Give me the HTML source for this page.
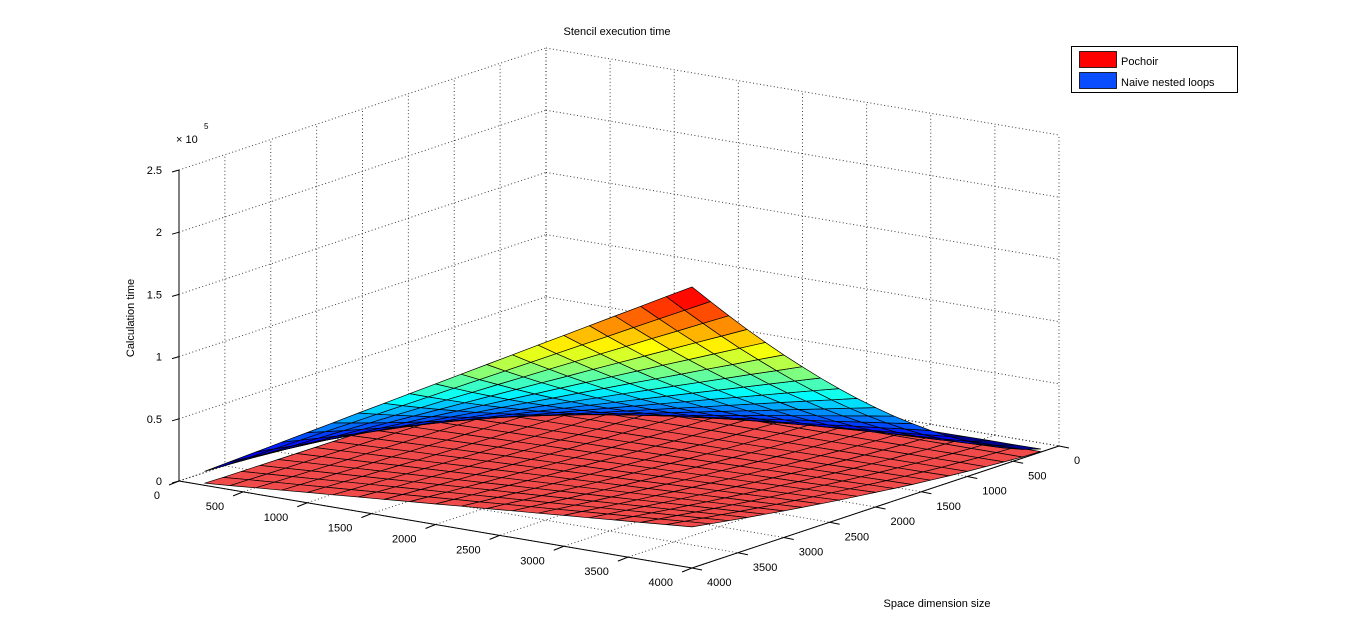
<!DOCTYPE html>
<html><head><meta charset="utf-8"><style>
html,body{margin:0;padding:0;background:#fff;}
svg{display:block;font-family:"Liberation Sans",Arial,sans-serif;}
</style></head><body>
<svg id="chart" width="1366" height="638" viewBox="0 0 1366 638" xmlns="http://www.w3.org/2000/svg">
<rect x="0" y="0" width="1366" height="638" fill="#fff"/>
<text x="617" y="35" font-size="11" text-anchor="middle">Stencil execution time</text>
<g id="grid"></g>
<g id="red"></g>
<g id="blue"></g>
<g id="axes"></g>
<text x="0" y="0" font-size="11" text-anchor="middle" transform="translate(134,318) rotate(-90)">Calculation time</text>
<text x="937" y="607" font-size="11" text-anchor="middle">Space dimension size</text>
<text x="176" y="143" font-size="11">× 10</text>
<text x="204" y="129" font-size="8">5</text>
<g>
<rect x="1071.5" y="46.5" width="166" height="46" fill="#fff" stroke="#000"/>
<rect x="1079.5" y="51.5" width="37" height="16" fill="#ff0000" stroke="#000" stroke-width="0.8"/>
<text x="1121" y="65" font-size="11">Pochoir</text>
<rect x="1079.5" y="72.5" width="37" height="16" fill="#0a4cff" stroke="#000" stroke-width="0.8"/>
<text x="1121" y="86" font-size="11">Naive nested loops</text>
</g>
</svg>
<script>
// ---- data ----
const aSizes = [200,400,600,800,1000,1200,1400,1600,1800,2000,2200,2400,2600,2800,3000,3200,3400,3600,3800,4000];
const bSizes = [200,400,600,800,1000,1200,1400,1600,1800,2000,2200,2400,2600,2800,3000,3200,3400,3600,3800,4000];
const aTicks = [0,500,1000,1500,2000,2500,3000,3500,4000];
const bTicks = [0,500,1000,1500,2000,2500,3000,3500,4000];
const zTicks = [0,0.5,1,1.5,2,2.5];
const zTickLabels = ["0","0.5","1","1.5","2","2.5"];
// naive nested loops (thousands), row = aSizes index, column = bSizes index
const naiveTime = [
[0.1,0.4,0.7,1.0,1.4,1.9,2.3,2.9,3.4,4.0,4.6,5.3,5.9,6.6,7.3,8.1,8.9,9.7,10.5,11.3],
[0.3,0.7,1.3,2.0,2.8,3.7,4.7,5.7,6.8,8.0,9.2,10.5,11.8,13.2,14.7,16.2,17.7,19.3,20.9,22.6],
[0.4,1.1,2.0,3.0,4.2,5.6,7.0,8.6,10.2,12.0,13.8,15.8,17.8,19.9,22.0,24.3,26.6,29.0,31.4,33.9],
[0.5,1.4,2.6,4.0,5.7,7.4,9.4,11.4,13.6,16.0,18.4,21.0,23.7,26.5,29.4,32.3,35.4,38.6,41.9,45.2],
[0.6,1.8,3.3,5.1,7.1,9.3,11.7,14.3,17.1,20.0,23.1,26.3,29.6,33.1,36.7,40.4,44.3,48.3,52.3,56.5],
[0.8,2.1,3.9,6.1,8.5,11.1,14.0,17.2,20.5,24.0,27.7,31.5,35.5,39.7,44.0,48.5,53.1,57.9,62.8,67.8],
[0.9,2.5,4.6,7.1,9.9,13.0,16.4,20.0,23.9,28.0,32.3,36.8,41.4,46.3,51.4,56.6,62.0,67.6,73.3,79.1],
[1.0,2.8,5.2,8.1,11.3,14.8,18.7,22.9,27.3,32.0,36.9,42.0,47.4,53.0,58.7,64.7,70.8,77.2,83.7,90.4],
[1.1,3.2,5.9,9.1,12.7,16.7,21.1,25.7,30.7,36.0,41.5,47.3,53.3,59.6,66.1,72.8,79.7,86.9,94.2,101.7],
[1.3,3.6,6.6,10.1,14.2,18.6,23.4,28.6,34.1,40.0,46.1,52.5,59.2,66.2,73.4,80.9,88.6,96.5,104.7,113.0],
[1.4,3.9,7.2,11.1,15.6,20.4,25.7,31.5,37.5,43.9,50.7,57.8,65.1,72.8,80.7,88.9,97.4,106.2,115.1,124.3],
[1.5,4.3,7.9,12.1,17.0,22.3,28.1,34.3,40.9,47.9,55.3,63.0,71.0,79.4,88.1,97.0,106.3,115.8,125.6,135.6],
[1.6,4.6,8.5,13.1,18.4,24.1,30.4,37.2,44.3,51.9,59.9,68.3,77.0,86.1,95.4,105.1,115.1,125.5,136.0,146.9],
[1.8,5.0,9.2,14.1,19.8,26.0,32.8,40.0,47.7,55.9,64.5,73.5,82.9,92.7,102.8,113.2,124.0,135.1,146.5,158.2],
[1.9,5.3,9.8,15.2,21.2,27.8,35.1,42.9,51.2,59.9,69.2,78.8,88.8,99.3,110.1,121.3,132.8,144.8,157.0,169.5],
[2.0,5.7,10.5,16.2,22.6,29.7,37.4,45.8,54.6,63.9,73.8,84.0,94.7,105.9,117.4,129.4,141.7,154.4,167.4,180.8],
[2.1,6.0,11.1,17.2,24.1,31.5,39.8,48.6,58.0,67.9,78.4,89.3,100.6,112.5,124.8,137.4,150.5,164.1,177.9,192.1],
[2.3,6.4,11.8,18.2,25.5,33.4,42.1,51.5,61.4,71.9,83.0,94.5,106.6,119.2,132.1,145.5,159.4,173.7,188.4,203.4],
[2.4,6.7,12.4,19.2,26.9,35.2,44.5,54.3,64.8,75.9,87.6,99.8,112.5,125.8,139.5,153.6,168.2,183.4,198.8,214.7],
[2.5,7.1,13.1,20.2,28.3,37.1,46.8,57.2,68.2,79.9,92.2,105.0,118.4,132.4,146.8,161.7,177.1,193.0,209.3,226.0]
];
// pochoir (thousands)
const pochoirTime = [
[0.0,0.1,0.1,0.2,0.2,0.3,0.3,0.4,0.5,0.6,0.7,0.8,0.9,1.0,1.1,1.2,1.3,1.4,1.5,1.7],
[0.0,0.1,0.2,0.3,0.4,0.5,0.7,0.8,1.0,1.2,1.4,1.5,1.7,1.9,2.1,2.4,2.6,2.8,3.1,3.3],
[0.1,0.2,0.3,0.5,0.6,0.8,1.0,1.2,1.5,1.8,2.0,2.3,2.6,2.9,3.2,3.5,3.9,4.2,4.6,5.0],
[0.1,0.2,0.4,0.6,0.8,1.1,1.4,1.7,2.0,2.3,2.7,3.1,3.5,3.9,4.3,4.7,5.2,5.6,6.1,6.6],
[0.1,0.3,0.5,0.8,1.0,1.4,1.7,2.1,2.5,2.9,3.4,3.8,4.3,4.8,5.4,5.9,6.5,7.1,7.7,8.3],
[0.1,0.3,0.6,0.9,1.2,1.6,2.0,2.5,3.0,3.5,4.1,4.6,5.2,5.8,6.4,7.1,7.8,8.5,9.2,9.9],
[0.1,0.4,0.7,1.1,1.4,1.9,2.4,2.9,3.5,4.1,4.7,5.4,6.1,6.8,7.5,8.3,9.1,9.9,10.7,11.6],
[0.2,0.4,0.8,1.2,1.6,2.2,2.7,3.3,4.0,4.7,5.4,6.1,6.9,7.7,8.6,9.4,10.4,11.3,12.2,13.2],
[0.2,0.5,0.9,1.4,1.8,2.4,3.1,3.7,4.5,5.3,6.1,6.9,7.8,8.7,9.6,10.6,11.7,12.7,13.8,14.9],
[0.2,0.5,1.0,1.5,2.1,2.7,3.4,4.2,5.0,5.9,6.8,7.7,8.7,9.7,10.7,11.8,13.0,14.1,15.3,16.5],
[0.2,0.6,1.0,1.7,2.3,3.0,3.7,4.6,5.5,6.4,7.4,8.4,9.5,10.6,11.8,13.0,14.2,15.5,16.8,18.2],
[0.2,0.6,1.1,1.8,2.5,3.2,4.1,5.0,6.0,7.0,8.1,9.2,10.4,11.6,12.8,14.2,15.5,16.9,18.4,19.8],
[0.3,0.7,1.2,2.0,2.7,3.5,4.4,5.4,6.5,7.6,8.8,9.9,11.2,12.5,13.9,15.3,16.8,18.3,19.9,21.5],
[0.3,0.7,1.3,2.1,2.9,3.8,4.8,5.8,7.0,8.2,9.5,10.7,12.1,13.5,15.0,16.5,18.1,19.7,21.4,23.1],
[0.3,0.8,1.4,2.3,3.1,4.1,5.1,6.2,7.5,8.8,10.1,11.5,13.0,14.5,16.1,17.7,19.4,21.2,23.0,24.8],
[0.3,0.8,1.5,2.4,3.3,4.3,5.4,6.6,8.0,9.4,10.8,12.2,13.8,15.4,17.1,18.9,20.7,22.6,24.5,26.4],
[0.3,0.9,1.6,2.6,3.5,4.6,5.8,7.1,8.5,9.9,11.5,13.0,14.7,16.4,18.2,20.1,22.0,24.0,26.0,28.1],
[0.4,0.9,1.7,2.7,3.7,4.9,6.1,7.5,9.0,10.5,12.2,13.8,15.6,17.4,19.3,21.2,23.3,25.4,27.5,29.7],
[0.4,1.0,1.8,2.9,3.9,5.1,6.5,7.9,9.5,11.1,12.8,14.5,16.4,18.3,20.3,22.4,24.6,26.8,29.1,31.4],
[0.4,1.0,1.9,3.0,4.1,5.4,6.8,8.3,10.0,11.7,13.5,15.3,17.3,19.3,21.4,23.6,25.9,28.2,30.6,33.0]
];

// ---- projection ----
const NS = "http://www.w3.org/2000/svg";
const OX = 546, OY = 359, AX = 513, AY = 87, BX = -367, BY = 122, ZS = 311, ZMAX = 250, AMAX = 4000, BMAX = 4000;
function P(a, b, z) {
  const u = a / AMAX, v = b / BMAX, w = z / ZMAX;
  return [OX + AX*u + BX*v, OY + AY*u + BY*v - ZS*w];
}
function depth(a, b, z) { return 1.14*a/AMAX + 1.6*b/BMAX + 0.945*z/ZMAX; }
function mk(tag, attrs, parent) {
  const el = document.createElementNS(NS, tag);
  for (const k in attrs) el.setAttribute(k, attrs[k]);
  parent.appendChild(el);
  return el;
}
function jet(t) {
  t = Math.max(0, Math.min(1, t));
  const c = x => Math.round(255*Math.max(0, Math.min(1, x)));
  return `rgb(${c(1.5-Math.abs(4*t-3))},${c(1.5-Math.abs(4*t-2))},${c(1.5-Math.abs(4*t-1))})`;
}

// ---- grid ----
const grid = document.getElementById('grid');
function dline(p, q, name) {
  const l = mk('line', {x1:p[0], y1:p[1], x2:q[0], y2:q[1], stroke:'#000', 'stroke-width':1, 'stroke-dasharray':'1,2.5', opacity:0.75}, grid);
  
  
}
zTicks.forEach(zt => {
  dline(P(0, BMAX, zt*100), P(0, 0, zt*100), 'wall-gridline-z');
  dline(P(0, 0, zt*100), P(AMAX, 0, zt*100), 'wall-gridline-z');
});
bTicks.forEach(bt => { dline(P(0, bt, 0), P(0, bt, 250), 'wall-gridline-b'); dline(P(0, bt, 0), P(AMAX, bt, 0), 'floor-gridline-b'); });
aTicks.forEach(at => { dline(P(at, 0, 0), P(at, 0, 250), 'wall-gridline-a'); dline(P(at, 0, 0), P(at, BMAX, 0), 'floor-gridline-a'); });

// ---- surfaces ----
function drawSurface(gid, data, colorFn, name) {
  const g = document.getElementById(gid);
  const cells = [];
  for (let i = 0; i < aSizes.length - 1; i++) {
    for (let j = 0; j < bSizes.length - 1; j++) {
      const pts = [[i,j],[i+1,j],[i+1,j+1],[i,j+1]].map(([ii,jj]) => [aSizes[ii], bSizes[jj], data[ii][jj]]);
      const zm = pts.reduce((s,p)=>s+p[2],0)/4;
      const d = pts.reduce((s,p)=>s+depth(p[0],p[1],p[2]),0)/4;
      cells.push({pts, zm, d});
    }
  }
  cells.sort((x,y)=>x.d-y.d);
  cells.forEach(c => {
    const s = c.pts.map(p => P(p[0],p[1],p[2]).map(v=>v.toFixed(1)).join(',')).join(' ');
    const poly = mk('polygon', {points:s, fill:colorFn(c.zm), stroke:'#000', 'stroke-width':0.7, 'stroke-linejoin':'round'}, g);
    
    
  });
}
drawSurface('red', pochoirTime, () => '#f04a4a', 'pochoir-cell');
drawSurface('blue', naiveTime, z => jet(z / 245), 'naive-cell');

// ---- axes ----
const ax = document.getElementById('axes');
function sline(p, q, name) {
  const l = mk('line', {x1:p[0], y1:p[1], x2:q[0], y2:q[1], stroke:'#000', 'stroke-width':1}, ax);
  
  
}
function label(x, y, txt, anchor, name) {
  const t = mk('text', {x, y, 'font-size':11, 'text-anchor':anchor}, ax);
  t.textContent = txt;
  
  
}
sline(P(0, BMAX, 0), P(0, BMAX, 250), 'z-axis-line');
zTicks.forEach((zt, k) => {
  const p = P(0, BMAX, zt*100);
  sline(p, [p[0]-7, p[1]+2], 'z-tick');
  label(p[0]-17, p[1]+4, zTickLabels[k], 'end', 'z-tick-label');
});
sline(P(0, BMAX, 0), P(AMAX, BMAX, 0), 'a-axis-line');
aTicks.forEach(at => {
  const p = P(at, BMAX, 0);
  sline(p, [p[0]-10, p[1]+4], 'a-tick');
  label(p[0]-19, p[1]+18, String(at), 'end', 'a-tick-label');
});
sline(P(AMAX, 0, 0), P(AMAX, BMAX, 0), 'b-axis-line');
bTicks.forEach(bt => {
  const p = P(AMAX, bt, 0);
  sline(p, [p[0]+10, p[1]+2], 'b-tick');
  label(p[0]+15, p[1]+18, String(bt), 'start', 'b-tick-label');
});
</script>
</body></html>
